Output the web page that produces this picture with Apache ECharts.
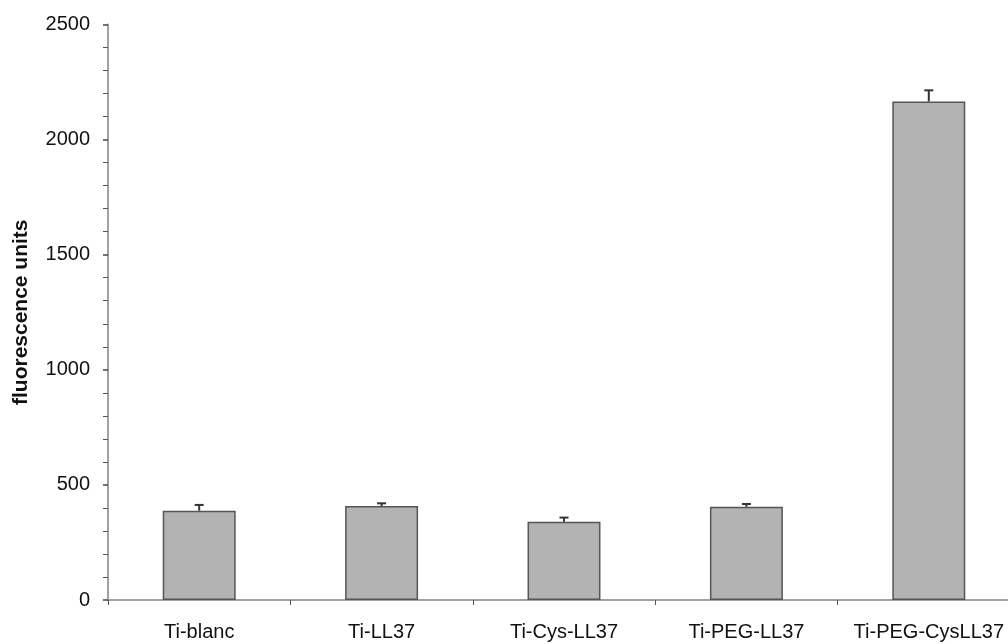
<!DOCTYPE html>
<html><head><meta charset="utf-8">
<script src="https://cdn.jsdelivr.net/npm/echarts@6/dist/echarts.min.js"></script>
<style>html,body{margin:0;padding:0;background:#fff;overflow:hidden;width:1008px;height:644px}#c{width:1020px;height:644px}</style>
</head><body><div id="c"></div>
<script>
const categories = ['Ti-blanc', 'Ti-LL37', 'Ti-Cys-LL37', 'Ti-PEG-LL37', 'Ti-PEG-CysLL37'];
const values = [388, 408, 340, 405, 2166];
const errors = [25, 12, 18, 12, 48];
const yTicks = { min: 0, max: 2500, interval: 500 };
const yTitle = 'fluorescence units';

const FONT = '"Liberation Sans", Arial, sans-serif';
const chart = echarts.init(document.getElementById('c'));
chart.setOption({
  animation: false,
  grid: { left: 108, right: 0, top: 24.5, bottom: 44 },
  xAxis: {
    type: 'category', data: categories,
    axisLine: { lineStyle: { color: '#a0a0a0', width: 2 } },
    axisTick: { show: true, interval: 0, length: 5, lineStyle: { color: '#555', width: 1 } },
    axisLabel: { interval: 0, hideOverlap: false, margin: 22, fontFamily: FONT, fontSize: 20, color: '#111' }
  },
  yAxis: {
    type: 'value', min: yTicks.min, max: yTicks.max, interval: yTicks.interval,
    name: yTitle, nameLocation: 'middle', nameGap: 76, nameRotate: 90,
    nameTextStyle: { fontFamily: FONT, fontSize: 21, fontWeight: 'bold', color: '#111' },
    axisLine: { show: true, lineStyle: { color: '#a0a0a0', width: 2 } },
    axisTick: { show: true, length: 5, lineStyle: { color: '#444', width: 1.5 } },
    minorTick: { show: true, splitNumber: 5, length: 5, lineStyle: { color: '#555', width: 1 } },
    splitLine: { show: false },
    axisLabel: { margin: 18, fontFamily: FONT, fontSize: 20, color: '#111', formatter: v => String(v) }
  },
  series: [
    {
      type: 'bar', data: values, barWidth: '40%',
      itemStyle: { color: '#b3b3b3', borderColor: '#555', borderWidth: 1.5 }
    },
    {
      type: 'custom', z: 5,
      data: values.map((v, i) => [i, v, v + errors[i]]),
      renderItem: function (params, api) {
        const x = api.value(0);
        const p0 = api.coord([x, api.value(1)]);
        const p1 = api.coord([x, api.value(2)]);
        const hw = 4.5;
        return {
          type: 'group',
          children: [
            { type: 'line', shape: { x1: p0[0], y1: p0[1], x2: p1[0], y2: p1[1] }, style: { stroke: '#333', lineWidth: 2 } },
            { type: 'line', shape: { x1: p1[0] - hw, y1: p1[1], x2: p1[0] + hw, y2: p1[1] }, style: { stroke: '#333', lineWidth: 2 } }
          ]
        };
      }
    }
  ]
});
</script></body></html>
